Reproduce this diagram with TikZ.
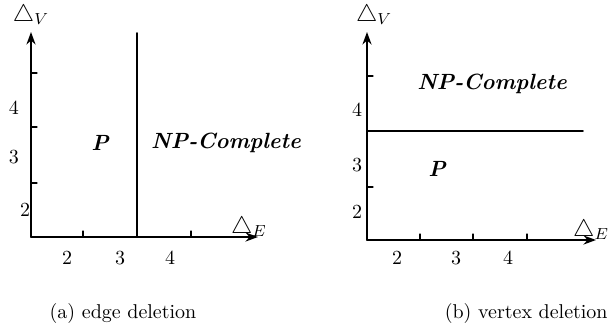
\documentclass[tikz,border=0pt]{standalone}
\usepackage{amsmath,amssymb}
\usetikzlibrary{arrows.meta}

\begin{document}
\begin{tikzpicture}[x=0.5pt,y=0.5pt,>={Stealth[length=2.2mm,width=1.6mm]},line cap=round,
  axis/.style={->,line width=0.9pt},
  border/.style={line width=0.9pt},
  tickmark/.style={line width=0.6pt},
  class/.style={font=\fontsize{11}{13}\selectfont\bfseries\itshape},
  axislabel/.style={font=\large,inner sep=1pt},
  ticklabel/.style={inner sep=1pt}]
\useasboundingbox (0,0) rectangle (609,328);
% (a) edge deletion
\coordinate (oa) at (31,91);
\coordinate (ya) at (31,296);
\coordinate (xa) at (258,91);
\draw[axis] (oa) -- (ya);
\draw[axis] (oa) -- (xa);
\node[axislabel] (dva) at (31,313) {$\triangle_V$};
\node[axislabel] (dea) at (249,101) {$\triangle_E$};
\draw[tickmark] (31,255) -- (37,255);
\draw[tickmark] (31,201) -- (37,201);
\draw[tickmark] (31,145) -- (37,145);
\draw[tickmark] (83,91) -- (83,97);
\draw[tickmark] (191,91) -- (191,97);
\node[ticklabel] (va4) at (14,220) {4};
\node[ticklabel] (va3) at (14,171) {3};
\node[ticklabel] (va2) at (25,118) {2};
\node[ticklabel] (ea2) at (67,70) {2};
\node[ticklabel] (ea3) at (120,70) {3};
\node[ticklabel] (ea4) at (170,70) {4};
\coordinate (topa) at (137,295);
\coordinate (bota) at (137,91);
\draw[border] (bota) -- (topa);
\node[class] (pa) at (100,185) {P};
\node[class] (npa) at (226,185) {NP-Complete};
\node[inner sep=0pt] (capa) at (123,15) {(a) edge deletion};
% (b) vertex deletion
\coordinate (ob) at (367,88);
\coordinate (yb) at (367,296);
\coordinate (xb) at (596,88);
\draw[axis] (ob) -- (yb);
\draw[axis] (ob) -- (xb);
\node[axislabel] (dvb) at (374,313) {$\triangle_V$};
\node[axislabel] (deb) at (591,98) {$\triangle_E$};
\draw[tickmark] (367,252) -- (373,252);
\draw[tickmark] (367,141) -- (373,141);
\draw[tickmark] (420,88) -- (420,94);
\draw[tickmark] (473,88) -- (473,94);
\draw[tickmark] (527,88) -- (527,94);
\node[ticklabel] (vb4) at (357,218) {4};
\node[ticklabel] (vb3) at (357,163) {3};
\node[ticklabel] (vb2) at (357,116) {2};
\node[ticklabel] (eb2) at (397,70) {2};
\node[ticklabel] (eb3) at (456,70) {3};
\node[ticklabel] (eb4) at (508,70) {4};
\coordinate (lftb) at (367,197);
\coordinate (rgtb) at (583,197);
\draw[border] (lftb) -- (rgtb);
\node[class] (npb) at (492,244) {NP-Complete};
\node[class] (pb) at (437,159) {P};
\node[inner sep=0pt,anchor=east] (capb) at (608,15) {(b) vertex deletion};
\end{tikzpicture}
\end{document}
